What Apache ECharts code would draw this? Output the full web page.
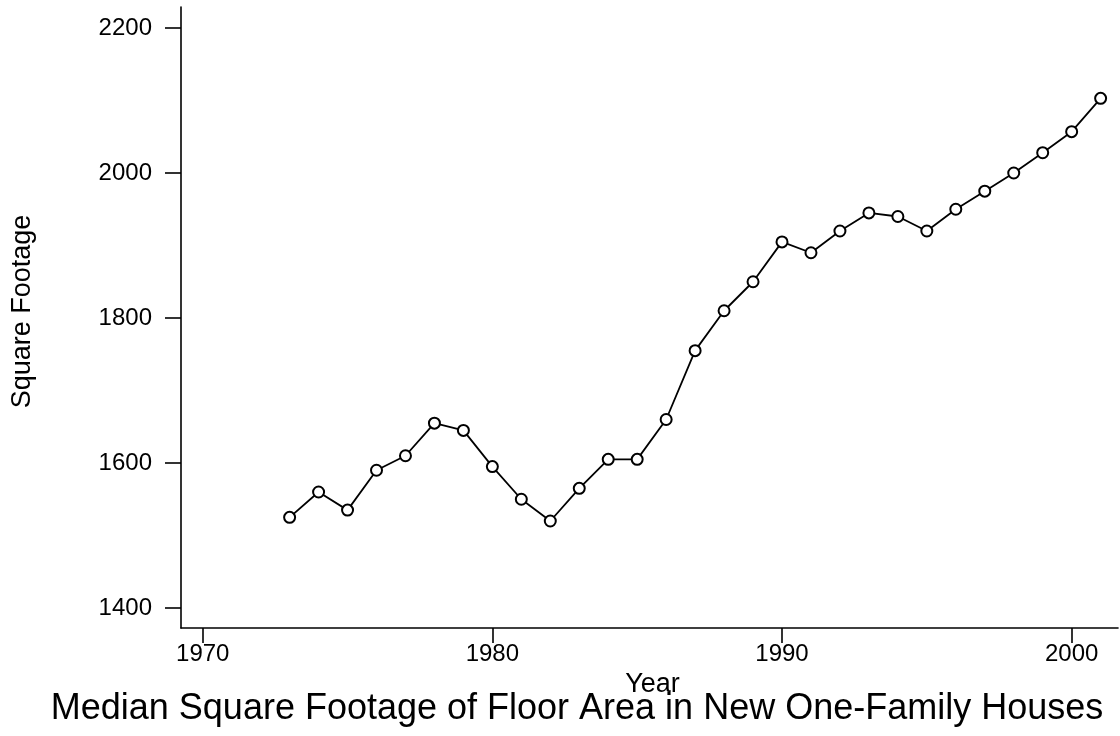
<!DOCTYPE html>
<html>
<head>
<meta charset="utf-8">
<script src="https://cdn.jsdelivr.net/npm/echarts@6/dist/echarts.min.js"></script>
<style>
html,body{margin:0;padding:0;background:#fff;}
#chart{width:1120px;height:736px;}
</style>
</head>
<body>
<div id="chart"></div>
<script>
const years = [1973,1974,1975,1976,1977,1978,1979,1980,1981,1982,1983,1984,1985,1986,1987,1988,1989,1990,1991,1992,1993,1994,1995,1996,1997,1998,1999,2000,2001];
const sqft = [1525,1560,1535,1590,1610,1655,1645,1595,1550,1520,1565,1605,1605,1660,1755,1810,1850,1905,1890,1920,1945,1940,1920,1950,1975,2000,2028,2057,2103];
const xTicks = [1970,1980,1990,2000];
const yTicks = [1400,1600,1800,2000,2200];

const FONT = '"Liberation Sans", Arial, Helvetica, sans-serif';
const chart = echarts.init(document.getElementById('chart'), null, {renderer:'canvas'});
const points = years.map((y,i)=>[y, sqft[i]]);

chart.setOption({
  backgroundColor:'#fff',
  animation:false,
  title:{
    text:'Median Square Footage of Floor Area in New One-Family Houses',
    left:577, top:691, textAlign:'center', padding:0,
    textStyle:{fontFamily:FONT, fontSize:36, fontWeight:'normal', color:'#000'}
  },
  grid:{left:181, right:2, top:7, bottom:108, containLabel:false, outerBoundsMode:'none'},
  xAxis:{
    type:'value', min:1969.25, max:2001.6,
    name:'Year', nameLocation:'middle', nameGap:34,
    nameTextStyle:{fontFamily:FONT, fontSize:27, color:'#000', padding:[0,0,0,6]},
    axisLine:{show:true, onZero:false, lineStyle:{color:'#000', width:1.6}},
    axisTick:{show:true, inside:false, length:15, lineStyle:{color:'#000', width:1.6}, customValues:xTicks},
    axisLabel:{show:true, margin:14, fontFamily:FONT, fontSize:24, color:'#000', customValues:xTicks, formatter:v=>String(v)},
    splitLine:{show:false}
  },
  yAxis:{
    type:'value', min:1372.4, max:2229,
    name:'Square Footage', nameLocation:'middle', nameGap:145, nameRotate:90,
    nameTextStyle:{fontFamily:FONT, fontSize:27, color:'#000', padding:[0,0,0,12]},
    axisLine:{show:true, onZero:false, lineStyle:{color:'#000', width:1.6}},
    axisTick:{show:true, inside:false, length:16, lineStyle:{color:'#000', width:1.6}, customValues:yTicks},
    axisLabel:{show:true, margin:29, fontFamily:FONT, fontSize:24, color:'#000', customValues:yTicks, formatter:v=>String(v)},
    splitLine:{show:false}
  },
  series:[{
    type:'line',
    data:points,
    symbol:'emptyCircle',
    symbolSize:11,
    showAllSymbol:true,
    lineStyle:{color:'#000', width:1.8},
    itemStyle:{color:'#000', borderColor:'#000', borderWidth:1.8},
    emphasis:{disabled:true}
  }]
});
</script>
</body>
</html>
